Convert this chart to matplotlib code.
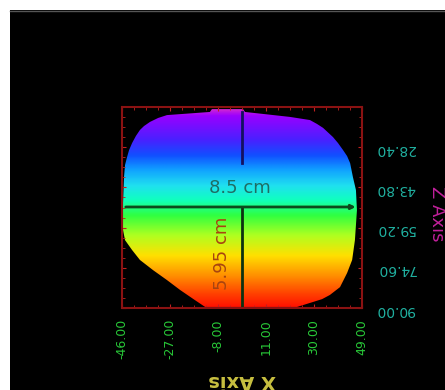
import numpy as np
import matplotlib
matplotlib.use("Agg")
import matplotlib.pyplot as plt
from matplotlib.colors import LinearSegmentedColormap
from matplotlib.patches import Polygon, Rectangle

# outline of the scanned part (x, z), clockwise from the top-left corner
outline_x = [-28.2, -31.7, -34.9, -37.3, -38.9, -40.5, -42.0, -43.2, -44.0, -44.8,
             -45.2, -45.6, -45.6, -44.8, -42.0, -38.9, -33.7, -28.2, -23.0, -17.1,
             -13.1, 23.3, 29.6, 33.2, 36.3, 40.3, 43.1, 45.1, 46.2, 47.0,
             46.6, 45.4, 44.3, 43.1, 41.5, 39.5, 37.5, 33.6, 31.2, 28.4,
             20.5, 2.7, 1.9, -10.4, -11.2]
outline_z = [16.1, 17.2, 18.7, 20.3, 21.8, 24.1, 26.8, 29.5, 32.2, 35.2,
             39.8, 49.8, 60.1, 64.0, 67.8, 71.6, 75.5, 79.3, 83.1, 87.0,
             89.6, 89.6, 87.7, 86.6, 85.0, 82.0, 76.6, 71.6, 64.0, 52.5,
             44.8, 39.8, 34.5, 31.8, 29.5, 26.8, 24.5, 21.0, 19.5, 18.0,
             16.8, 14.9, 13.8, 13.8, 14.9]

x_ticks = [-46.0, -27.0, -8.0, 11.0, 30.0, 49.0]
z_ticks = [28.4, 43.8, 59.2, 74.6, 90.0]
x_lim = (-46.0, 49.0)
z_lim = (13.0, 90.0)

width_label = "8.5 cm"
height_label = "5.95 cm"
width_line = (-45.6, 47.6, 51.3)        # x0, x1, z
height_line_top = (1.5, 14.9, 34.5)     # x, z0, z1
height_line = (1.5, 51.3, 89.6)

depth_cmap = LinearSegmentedColormap.from_list("depth", [
    (0.00, "#e030c8"), (0.04, "#9a00ff"), (0.16, "#4a20ff"), (0.24, "#1050ff"),
    (0.31, "#10a0ff"), (0.39, "#20e0f0"), (0.46, "#10ffc0"), (0.54, "#30ff40"),
    (0.64, "#b0ff20"), (0.74, "#ffe000"), (0.84, "#ff9000"), (0.94, "#ff3a00"),
    (1.00, "#ff1000")])

fig = plt.figure(figsize=(4.45, 3.90), dpi=100, facecolor="black")
fig.patches.append(Rectangle((0, 1 - 10 / 390), 1, 10 / 390, transform=fig.transFigure,
                             facecolor="white", edgecolor="none", zorder=0))
fig.patches.append(Rectangle((0, 0), 10 / 445, 1, transform=fig.transFigure,
                             facecolor="white", edgecolor="none", zorder=0))
fig.lines.append(plt.Line2D([10 / 445, 1], [1 - 11 / 390] * 2, transform=fig.transFigure,
                            color="#555555", lw=1))

ax = fig.add_axes([122 / 445, 82 / 390, 240 / 445, 201 / 390])
ax.set_facecolor("black")

# depth map: every point coloured by its z value, clipped to the outline
zz = np.linspace(z_lim[0], z_lim[1], 400).reshape(-1, 1)
img = ax.imshow(np.repeat(zz, 2, axis=1), extent=(x_lim[0], x_lim[1], z_lim[1], z_lim[0]),
                cmap=depth_cmap, vmin=z_lim[0], vmax=z_lim[1], aspect="auto",
                interpolation="bilinear")
shape = Polygon(np.column_stack([outline_x, outline_z]), closed=True,
                facecolor="none", edgecolor="none")
ax.add_patch(shape)
img.set_clip_path(shape)

# measurement lines
ax.annotate("", xy=(width_line[1], width_line[2]), xytext=(width_line[0], width_line[2]),
            arrowprops=dict(arrowstyle="-|>", color="#0c4a1c", lw=2, mutation_scale=6))
ax.plot([height_line_top[0]] * 2, height_line_top[1:], color="#141060", lw=2)
ax.plot([height_line[0]] * 2, height_line[1:], color="#0c3210", lw=2)
ax.text(0.7, 44.0, width_label, color="#1e6e64", fontsize=13, ha="center", va="center")
ax.text(-6.4, 69.0, height_label, color="#a84410", fontsize=13, ha="center", va="center",
        rotation=90)

ax.set_xlim(*x_lim)
ax.set_ylim(z_lim[1], z_lim[0])
ax.set_xticks(x_ticks)
ax.set_xticklabels([f"{v:.2f}" for v in x_ticks])
ax.yaxis.tick_right()
ax.set_yticks(z_ticks)
ax.set_yticklabels([f"{v:.2f}" for v in z_ticks])
ax.minorticks_on()
ax.tick_params(which="both", direction="in", color="#c02020", top=True, left=True,
               right=True, bottom=True)
ax.tick_params(which="major", length=3)
ax.tick_params(which="minor", length=2)
ax.tick_params(axis="x", labelcolor="#28c838", labelsize=9, labelrotation=90, pad=8)
ax.tick_params(axis="y", labelcolor="#20b0a0", labelsize=10, pad=10)
for lbl in ax.get_yticklabels():
    lbl.set_rotation(180)
for sp in ax.spines.values():
    sp.set_color("#8a1212")
    sp.set_linewidth(1.5)

ax.set_xlabel("X Axis", color="#c8c040", fontsize=14, fontweight="bold", rotation=180,
              labelpad=8)
fig.text(437 / 445, 1 - 214 / 390, "Z Axis", color="#c0209a", fontsize=13,
         rotation=270, ha="center", va="center")

fig.savefig("out.png", dpi=100, facecolor=fig.get_facecolor())
